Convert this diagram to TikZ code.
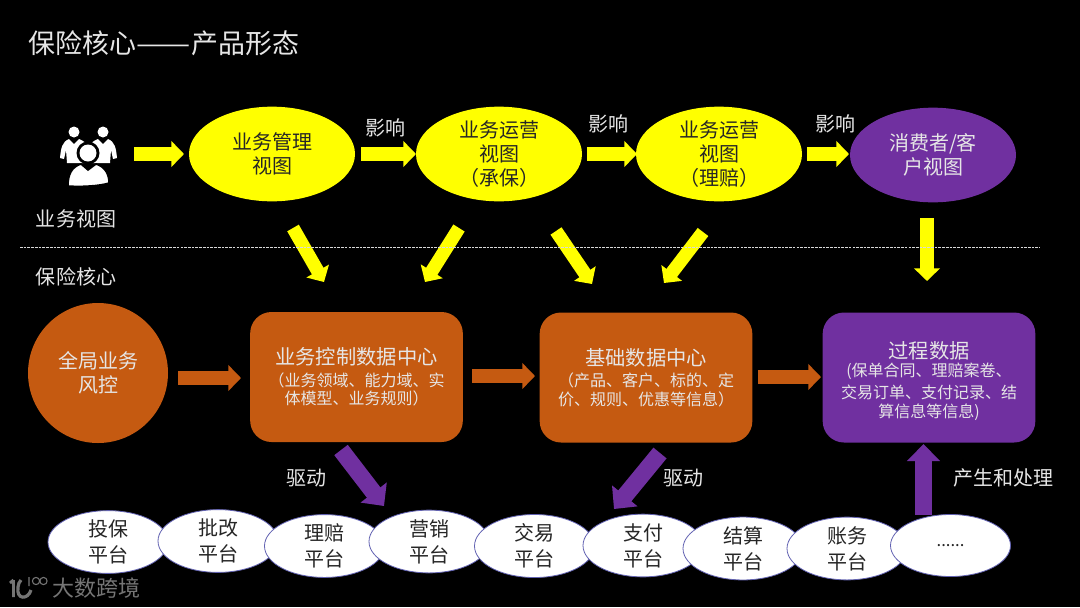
\documentclass[tikz,border=0pt]{standalone}
\usepackage{fontspec}
\usepackage{graphicx}
\setmainfont{Noto Sans CJK SC}
\usetikzlibrary{shapes.geometric,arrows.meta}
\definecolor{ylw}{HTML}{FFFF00}
\definecolor{org}{HTML}{C55A11}
\definecolor{ppl}{HTML}{7030A0}
\definecolor{txtw}{HTML}{E6E6E6}
\definecolor{txtd}{HTML}{262626}
\definecolor{wmk}{HTML}{757575}
\newcommand{\bighead}{\fontsize{15.2}{18}\selectfont}
\newcommand{\smalltxt}{\fontsize{12}{14}\selectfont}
\tikzset{
  big/.style={font=\fontsize{15}{18}\selectfont,align=center},
  ell/.style={ellipse,inner sep=0pt,minimum width=124.5pt,minimum height=71pt,big},
  yell/.style={ell,fill=ylw,text=txtd},
  pell/.style={ell,fill=ppl,text=txtw},
  plat/.style={ellipse,inner sep=0pt,minimum width=90pt,minimum height=46.5pt,fill=white,draw=white!55!blue!70!black,line width=.6pt,text=txtd,align=center,font=\fontsize{15}{19.5}\selectfont},
  rbox/.style={rounded corners=16pt,inner sep=0pt,minimum width=159.5pt,minimum height=97.5pt,align=center,text=txtw},
  lab/.style={big,text=txtw,inner sep=0pt},
  yarrow/.style={draw=ylw,line width=10pt,-{Triangle[length=9.5pt,width=19pt,fill=ylw]}},
  oarrow/.style={draw=org,line width=10pt,-{Triangle[length=9.5pt,width=19pt,fill=org]}},
  parrow/.style={draw=ppl,line width=12.75pt,-{Triangle[length=12.75pt,width=24pt,fill=ppl]}},
}
\begin{document}
\begin{tikzpicture}[x=0.75pt,y=-0.75pt]
\useasboundingbox (0,0) rectangle (1080,607);
\fill[black] (0,0) rectangle (1080,607);
% title
\node[anchor=west,inner sep=0pt,text=txtw,font=\fontsize{20.2}{24}\selectfont] (title) at (28,43) {保险核心\scalebox{1.2}[1]{——}\hspace{1pt}产品形态};
% people icon
\fill[white] (60,158) .. controls (61,148) and (62,142) .. (69,139) -- (74,144) -- (79,139) .. controls (84,141) and (86,143) .. (88,146) -- (89,146) .. controls (91,143) and (93,141) .. (98,139) -- (103,144) -- (108,139) .. controls (115,142) and (116,148) .. (117,158) -- (113,159) -- (111,150) -- (110,163) -- (67,163) -- (66,150) -- (64,159) -- cycle;
\fill[white] (74,132) circle (5.5) (103,132) circle (5.5);
\fill[black] (88,153) circle (11.5);
\fill[white] (88,153) circle (8.5);
\filldraw[white,draw=black,line width=1.2pt] (68,186) .. controls (68,174) and (72,167) .. (81,164) -- (88,170) -- (96,164) .. controls (105,167) and (109,174) .. (109,183) .. controls (100,186) and (80,187) .. (68,186) -- cycle;
\node[lab,anchor=center] (ywst) at (76,219) {业务视图};
% top row
\node[yell] (v1) at (272,154) {业务管理\\视图};
\node[yell] (v2) at (499,154) {业务运营\\视图\\（承保）};
\node[yell] (v3) at (719,154) {业务运营\\视图\\（理赔）};
\node[pell] (v4) at (933,155) {消费者/客\\户视图};
\node[lab] (l1) at (385,128) {影响};
\node[lab] (l2) at (608,124) {影响};
\node[lab] (l3) at (835,124) {影响};
\node[lab] (core) at (76,277) {保险核心};
% middle row
\node[circle,inner sep=0pt,minimum size=105pt,fill=org,lab] (risk) at (98,373) {全局业务\\风控};
\node[rbox,fill=org] (c1) at (356.5,377) {\bighead 业务控制数据中心\\[4pt]\smalltxt （业务领域、能力域、实\\[2pt]\smalltxt 体模型、业务规则）};
\node[rbox,fill=org] (c2) at (646,377.5) {\bighead 基础数据中心\\[4pt]\smalltxt （产品、客户、标的、定\\[2pt]\smalltxt 价、规则、优惠等信息）};
\node[rbox,fill=ppl] (c3) at (929,377.5) {\bighead\rule{0pt}{18pt}过程数据\\[2pt]\smalltxt (保单合同、理赔案卷、\\[2.5pt]\smalltxt 交易订单、支付记录、结\\[2.5pt]\smalltxt 算信息等信息)};
% bottom row
\node[plat] (p1) at (108,542) {投保\\平台};
\node[plat] (p2) at (218,541) {批改\\平台};
\node[plat] (p3) at (324.5,546) {理赔\\平台};
\node[plat] (p4) at (429,541.5) {营销\\平台};
\node[plat] (p5) at (534.5,546) {交易\\平台};
\node[plat] (p6) at (643,545.5) {支付\\平台};
\node[plat] (p7) at (743,548.5) {结算\\平台};
\node[plat] (p8) at (847,548.5) {账务\\平台};
\node[plat,font=\fontsize{12.5}{15}\selectfont] (p9) at (950.5,545.5) {......};
\node[lab] (d1) at (306,478) {驱动};
\node[lab] (d2) at (683,478) {驱动};
\node[lab] (d3) at (1003,478) {产生和处理};
% arrow ends
\coordinate (a0s) at (134,154); \coordinate (a0e) at (184,154);
\coordinate (a1s) at (361,154); \coordinate (a1e) at (416,154);
\coordinate (a2s) at (587,154); \coordinate (a2e) at (637,154);
\coordinate (a3s) at (807,154); \coordinate (a3e) at (849,154);
\coordinate (b1s) at (293,228); \coordinate (b1e) at (324,282);
\coordinate (b2s) at (459,228); \coordinate (b2e) at (425,282);
\coordinate (b3s) at (556,231); \coordinate (b3e) at (592,284);
\coordinate (b4s) at (703,232); \coordinate (b4e) at (664,283);
\coordinate (b5s) at (927,218); \coordinate (b5e) at (927,281);
\coordinate (o1s) at (178,378); \coordinate (o1e) at (241,378);
\coordinate (o2s) at (472,376); \coordinate (o2e) at (535,376);
\coordinate (o3s) at (758,377); \coordinate (o3e) at (821,377);
\coordinate (u1s) at (341,450); \coordinate (u1e) at (384,506);
\coordinate (u2s) at (660,453); \coordinate (u2e) at (614,509);
\coordinate (u3s) at (923.5,515); \coordinate (u3e) at (923.5,444);
\draw[yarrow] (a0s) -- (a0e);
\draw[yarrow] (a1s) -- (a1e);
\draw[yarrow] (a2s) -- (a2e);
\draw[yarrow] (a3s) -- (a3e);
\draw[yarrow] (b1s) -- (b1e);
\draw[yarrow] (b2s) -- (b2e);
\draw[yarrow] (b3s) -- (b3e);
\draw[yarrow] (b4s) -- (b4e);
\draw[yarrow] (b5s) -- (b5e);
\draw[oarrow] (o1s) -- (o1e);
\draw[oarrow] (o2s) -- (o2e);
\draw[oarrow] (o3s) -- (o3e);
\draw[parrow] (u1s) -- (u1e);
\draw[parrow] (u2s) -- (u2e);
\draw[parrow] (u3s) -- (u3e);
% separator, over the arrows
\coordinate (sepa) at (20,247);
\coordinate (sepb) at (1040,247);
\draw[white!85!black,line width=.5pt,dash pattern=on 2pt off .8pt] (sepa) -- (sepb);
% watermark
\node[anchor=west,inner sep=0pt,text=wmk,font=\fontsize{16.5}{18}\selectfont] (wm) at (52,588) {大数跨境};
\draw[wmk,line width=2.2pt] (13.5,580) -- (13.5,597) (10,583) -- (13.5,580);
\draw[wmk,line width=2.4pt] (31,590) .. controls (28,600) and (16,600) .. (18,587) .. controls (18.5,584) and (19,582) .. (21,580);
\draw[wmk,line width=.8pt] (29,577) -- (29,586) (36,581) circle (3.6) (43.5,581) circle (3.6);
\end{tikzpicture}
\end{document}
